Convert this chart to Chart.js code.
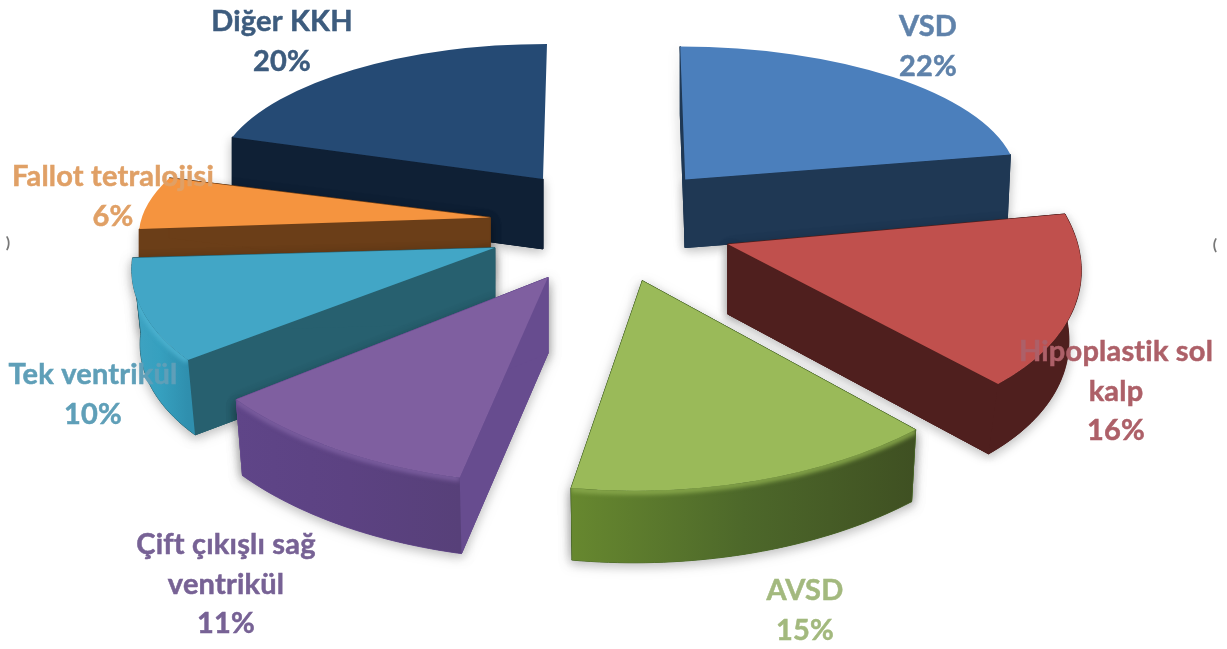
<!DOCTYPE html>
<html>
<head>
<meta charset="utf-8">
<style>
  html,body{margin:0;padding:0;background:#fff;overflow:hidden}
  #wrap{width:1227px;height:649px}
</style>
<script src="https://cdn.jsdelivr.net/npm/chart.js@4/dist/chart.umd.min.js"></script>
</head>
<body>
<div id="wrap"><canvas id="pie" width="1227" height="649"></canvas></div>
<script>
const categories = ['VSD','Hipoplastik sol kalp','AVSD','Çift çıkışlı sağ ventrikül','Tek ventrikül','Fallot tetralojisi','Diğer KKH'];
const percents = [22,16,15,11,10,6,20];

// label wrapping, same order as categories
const labelLines = [['VSD'],['Hipoplastik sol','kalp'],['AVSD'],['Çift çıkışlı sağ','ventrikül'],['Tek ventrikül'],['Fallot tetralojisi'],['Diğer KKH']];

// styles
const topColors = ['#4b7fbc','#c0504d','#9aba59','#7f5fa0','#42a6c6','#f5943f','#254a74'];
const sideColors = ['#1f3854','#4f1f1e','#4a6828','#674c8f','#27606f','#6b3e18','#0f2035'];
const rimLeft = ['#1f3854','#4f1f1e','#67882f','#5f4588','#3fa3c2','#6b3e18','#0f2035'];
const rimMid = ['#1f3854','#4f1f1e','#4d682a','#5c4282','#36a0bf','#6b3e18','#0f2035'];
const rimRight = ['#1f3854','#4f1f1e','#3f5022','#574079','#2f8fae','#6b3e18','#0f2035'];
const bevelColors = [null,null,'#86a64a','#7a5d9e','#4bb0ce',null,null];
const textColors = ['#5f82aa','#ad6068','#a3b97e','#776295','#5f9fb8','#e0a066','#3d5c7e'];
const labelX = [928,1116,805,226,93,113,282];
const labelY = [27,352,591,545,375,177,22];

// per slice look of the tilted pie
const explode = [118,124,116,122,124,121,114];
const depth = [68,70,72,76,75,60,70];
const lowX = [0.99,0.965,0.985,0.98,0.977,1,1];
const showRim = [false,true,true,true,true,false,false];
const showFaceB = [true,true,true,true,true,true,false];
const tilt = [[332,5,0,133],[351,41,5,187],[396,3,-6,210],[392,-15,12,206],[360,-46,1,177],[349,-37,-3,137],[328,-4,0,135]];
const drawOrder = [6,0,5,1,4,2,3];
const ySquash = 0.5;

function arcPoints(el,i,ax,ay,dy,kx){
  const m = tilt[i], pts = [];
  const n = 40;
  for(let k=0;k<=n;k++){
    const t = el.startAngle + (el.endAngle-el.startAngle)*k/n;
    const c = Math.cos(t), s = Math.sin(t);
    pts.push([ax + (m[0]*c + m[1]*s)*kx, ay + m[2]*c + m[3]*s + dy]);
  }
  return pts;
}

function tracePoly(ctx,pts){
  ctx.beginPath();
  pts.forEach((p,k)=>{ k ? ctx.lineTo(p[0],p[1]) : ctx.moveTo(p[0],p[1]); });
  ctx.closePath();
}
function fillPoly(ctx,pts){
  tracePoly(ctx,pts);
  ctx.fill();
  // close the hairline seams between faces
  ctx.strokeStyle = ctx.fillStyle;
  ctx.lineWidth = 1;
  ctx.stroke();
}

const tiltedPie = {
  id:'tiltedPie',
  beforeDatasetDraw(chart,args){
    const ctx = chart.ctx;
    const meta = args.meta;
    drawOrder.forEach(i=>{
      const el = meta.data[i];
      const mid = (el.startAngle+el.endAngle)/2;
      const ax = el.x + explode[i]*Math.cos(mid);
      const ay = el.y + explode[i]*Math.sin(mid)*ySquash;
      const d = depth[i];
      const topArc = arcPoints(el,i,ax,ay,0,1);
      const lowArc = arcPoints(el,i,ax,ay,d,lowX[i]);
      const first = topArc[0], last = topArc[topArc.length-1];
      const faceA = [[ax,ay],first,lowArc[0],[ax,ay+d]];
      const faceB = [[ax,ay],last,lowArc[lowArc.length-1],[ax,ay+d]];
      const rim = topArc.concat(lowArc.slice().reverse());

      const xs = topArc.map(p=>p[0]);
      const grad = ctx.createLinearGradient(Math.min(...xs),0,Math.max(...xs),0);
      grad.addColorStop(0,rimLeft[i]);
      grad.addColorStop(0.5,rimMid[i]);
      grad.addColorStop(1,rimRight[i]);

      // soft shadow under the block
      ctx.save();
      ctx.shadowColor = 'rgba(0,0,0,0.28)';
      ctx.shadowBlur = 12;
      ctx.shadowOffsetY = 3;
      ctx.fillStyle = sideColors[i];
      fillPoly(ctx,faceA);
      if(showFaceB[i]) fillPoly(ctx,faceB);
      if(showRim[i]) fillPoly(ctx,rim);
      ctx.restore();

      ctx.fillStyle = sideColors[i];
      fillPoly(ctx,faceA);
      if(showFaceB[i]) fillPoly(ctx,faceB);
      if(showRim[i]){
        ctx.fillStyle = grad;
        tracePoly(ctx,rim);
        ctx.fill();
      }

      if(bevelColors[i]){
        ctx.save();
        tracePoly(ctx,rim);
        ctx.clip();
        ctx.filter = 'blur(2px)';
        ctx.strokeStyle = bevelColors[i];
        ctx.lineWidth = 6;
        ctx.beginPath();
        topArc.forEach((p,k)=>{ k ? ctx.lineTo(p[0],p[1]+1) : ctx.moveTo(p[0],p[1]+1); });
        ctx.stroke();
        ctx.restore();
      }

      // top face is the library's own arc, mapped through the tilt
      const m = tilt[i], R = el.outerRadius;
      ctx.save();
      ctx.translate(ax,ay);
      ctx.transform(m[0]/R,m[2]/R,m[1]/R,m[3]/R,0,0);
      ctx.translate(-el.x,-el.y);
      el.draw(ctx);
      ctx.restore();
    });
    return false;
  },
  afterDraw(chart){
    const ctx = chart.ctx;
    ctx.save();
    ctx.filter = 'blur(0.6px)';
    ctx.font = 'bold 29px Lato';
    ctx.letterSpacing = '0.2px';
    ctx.textAlign = 'center';
    ctx.textBaseline = 'middle';
    ctx.lineWidth = 0.5;
    categories.forEach((c,i)=>{
      ctx.fillStyle = textColors[i];
      ctx.strokeStyle = textColors[i];
      const lines = labelLines[i].concat(percents[i]+'%');
      lines.forEach((t,k)=>{
        ctx.fillText(t,labelX[i],labelY[i]+k*39.5);
        ctx.strokeText(t,labelX[i],labelY[i]+k*39.5);
      });
    });
    // clipped leftovers at both edges of the picture
    ctx.font = 'bold 16px Lato';
    ctx.fillStyle = '#777';
    ctx.fillText(')',8,243);
    ctx.fillText('(',1215,245);
    ctx.restore();
  }
};

new Chart(document.getElementById('pie').getContext('2d'),{
  type:'pie',
  data:{labels:categories,datasets:[{data:percents,backgroundColor:topColors,borderWidth:0}]},
  options:{
    responsive:false,
    animation:false,
    radius:330,
    layout:{padding:{right:7,bottom:199}},
    plugins:{legend:{display:false},tooltip:{enabled:false}}
  },
  plugins:[tiltedPie]
});
</script>
</body>
</html>
